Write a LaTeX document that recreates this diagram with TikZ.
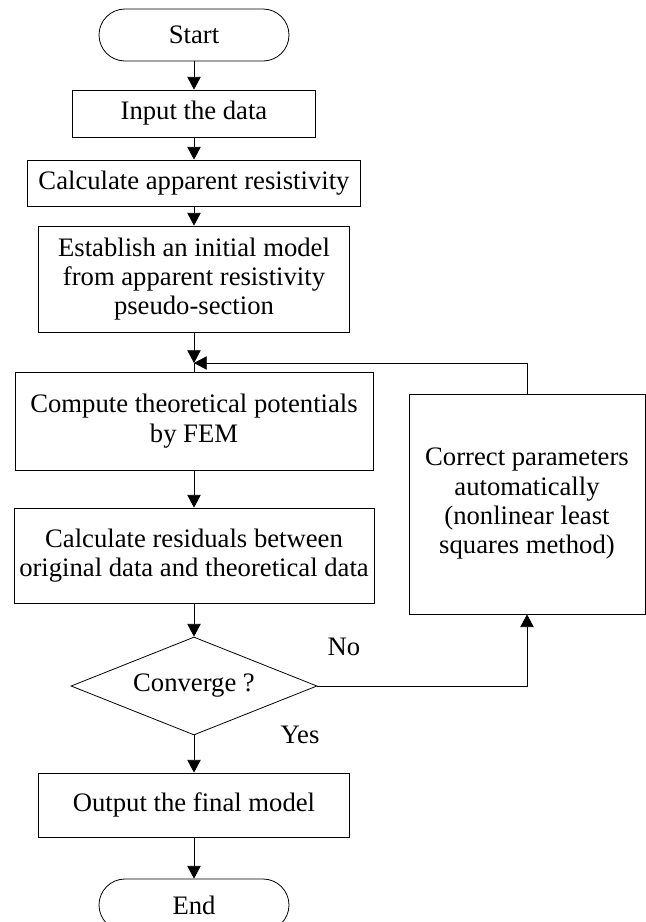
\documentclass[tikz,border=0pt]{standalone}
\usepackage{fontspec}
\setmainfont{Liberation Serif}
\usetikzlibrary{arrows.meta,shapes.geometric}
\begin{document}
\begin{tikzpicture}[x=0.75pt,y=-0.75pt,
  font=\fontsize{20}{22}\selectfont,
  box/.style={draw,line width=0.6pt,align=center,inner sep=2pt},
  term/.style={box,rounded corners=19.5pt,minimum width=142.5pt,minimum height=39pt},
  decide/.style={draw,line width=0.6pt,diamond,aspect=2.5,inner sep=0pt,minimum width=184.5pt,minimum height=73.5pt},
  arr/.style={line width=0.6pt,-{Triangle[length=9.5pt,width=10pt]}}]
\useasboundingbox (0,0) rectangle (646,922);
\node[term] (start) at (194,35) {Start};
\node[box,minimum width=182.25pt,minimum height=35.25pt] (input) at (194,113.5) {Input the data};
\node[box,minimum width=249.75pt,minimum height=34.5pt] (calc) at (194,183) {Calculate apparent resistivity};
\node[box,minimum width=233.25pt,minimum height=79.5pt] (estab) at (194,279) {Establish an initial model\\from apparent resistivity\\pseudo-section};
\coordinate (join) at (194,363);
\node[box,minimum width=268.5pt,minimum height=73.5pt] (comp) at (194,421) {Compute theoretical potentials\\by FEM};
\node[box,minimum width=270pt,minimum height=71.25pt] (resid) at (194,555.5) {Calculate residuals between\\original data and theoretical data};
\node[decide] (conv) at (194,686) {Converge ?};
\node[box,minimum width=233.25pt,minimum height=48pt] (output) at (194,805) {Output the final model};
\node[term] (stop) at (194,905) {End};
\node[box,minimum width=177pt,minimum height=165pt] (corr) at (527,504) {Correct parameters\\automatically\\(nonlinear least\\squares method)};
\node (no) at (344,647) {No};
\node (yes) at (300,735) {Yes};
\draw[arr] (start) -- (input);
\draw[arr] (input) -- (calc);
\draw[arr] (calc) -- (estab);
\draw[arr] (estab) -- (join);
\draw[line width=0.6pt] (join) -- (comp);
\draw[arr] (comp) -- (resid);
\draw[arr] (resid) -- (conv);
\draw[arr] (conv) -- (output);
\draw[arr] (output) -- (stop);
\draw[arr] (conv.east) -| (corr.south);
\draw[arr] (corr.north) |- (join);
\end{tikzpicture}
\end{document}
